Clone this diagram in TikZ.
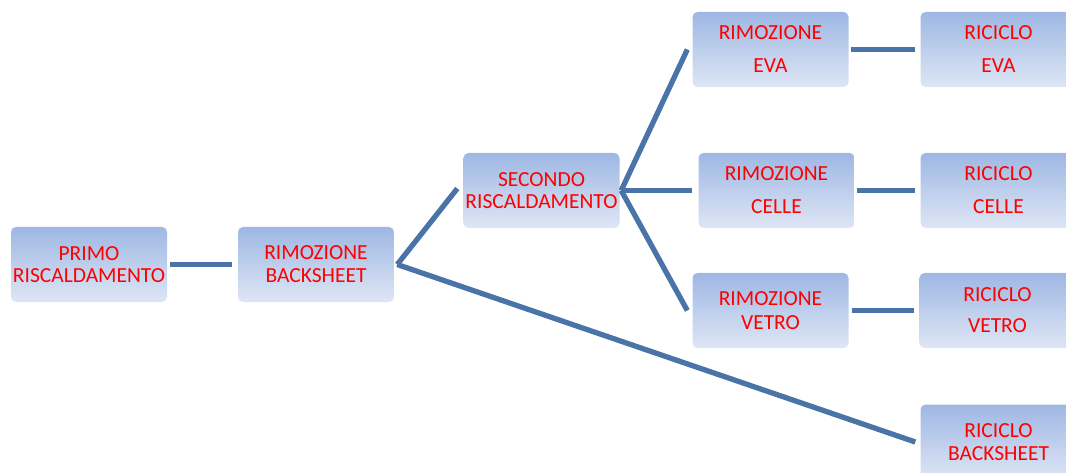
\documentclass[tikz,border=0pt]{standalone}
\usepackage{fontspec}
\setmainfont{Carlito}
\definecolor{topblue}{RGB}{158,183,227}
\definecolor{botblue}{RGB}{222,230,245}
\definecolor{linkblue}{RGB}{74,116,168}
\definecolor{txtred}{RGB}{255,0,0}
\begin{document}
\begin{tikzpicture}[x=1pt,y=-1pt,
  box/.style={rectangle, rounded corners=5pt, top color=topblue, bottom color=botblue,
    draw=none, minimum width=156pt, minimum height=75pt, inner sep=0pt,
    align=center, text=txtred, font=\fontsize{21.5}{22}\selectfont},
  link/.style={draw=linkblue, line width=5.3pt}]
\useasboundingbox (0,0) rectangle (1066,473);
\clip (0,0) rectangle (1066,473);
\node[box] (p)  at (89,264.5)  {PRIMO\\RISCALDAMENTO};
\node[box] (rb) at (316,264.5) {RIMOZIONE\\[1pt]BACKSHEET};
\node[box] (sc) at (541.5,190.5) {SECONDO\\RISCALDAMENTO};
\node[box] (re) at (770.5,49.5) {RIMOZIONE\\[11pt]EVA};
\node[box] (rc) at (776.5,190.5) {RIMOZIONE\\[11pt]CELLE};
\node[box] (rv) at (770.5,310.5) {RIMOZIONE\\[2pt]VETRO};
\node[box] (ce) at (998.5,49.5) {RICICLO\\[11pt]EVA};
\node[box] (cc) at (998.5,190.5) {RICICLO\\[11pt]CELLE};
\node[box] (cv) at (997.5,310.5) {RICICLO\\[9pt]VETRO};
\node[box] (cb) at (998.5,442) {RICICLO\\[1pt]BACKSHEET};
\coordinate (f1) at ([xshift=3pt]rb.east);
\coordinate (f2) at ([xshift=1.5pt]sc.east);
\draw[link] ([xshift=3pt]p.east) -- ([xshift=-6pt]rb.west);
\draw[link] (f1) -- ([xshift=-6pt,yshift=2pt]sc.west);
\draw[link] (f1) -- ([xshift=-5pt]cb.west);
\draw[link] (f2) -- ([xshift=-5pt]re.west);
\draw[link] (f2) -- ([xshift=-6pt]rc.west);
\draw[link] (f2) -- ([xshift=-5pt]rv.west);
\draw[link] ([xshift=2pt]re.east) -- ([xshift=-5pt]ce.west);
\draw[link] ([xshift=2pt]rc.east) -- ([xshift=-5pt]cc.west);
\draw[link] ([xshift=3pt]rv.east) -- ([xshift=-5pt]cv.west);
\end{tikzpicture}
\end{document}
